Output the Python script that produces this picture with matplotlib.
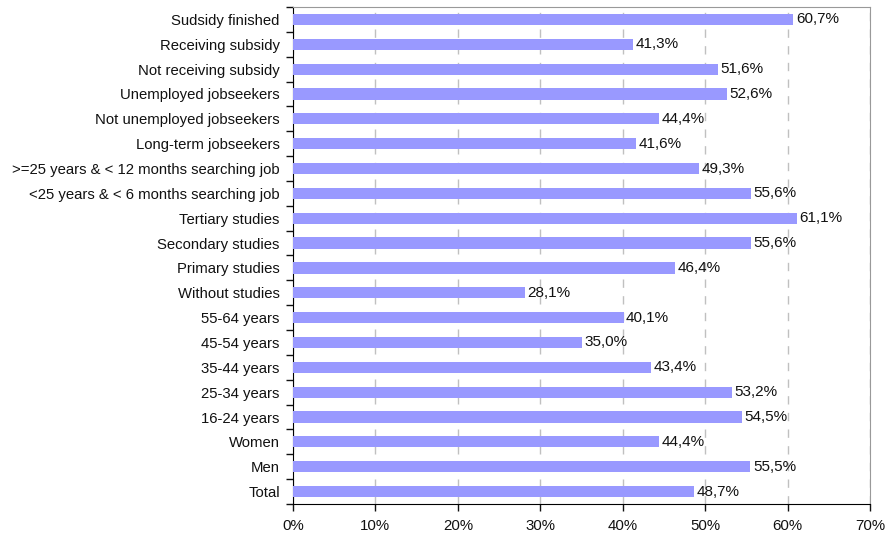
import matplotlib
matplotlib.use("Agg")
import matplotlib.pyplot as plt
import numpy as np
from matplotlib.ticker import FixedLocator

plt.rcParams['font.family'] = ['Liberation Sans', 'DejaVu Sans']

categories = ["Total", "Men", "Women", "16-24 years", "25-34 years", "35-44 years",
              "45-54 years", "55-64 years", "Without studies", "Primary studies",
              "Secondary studies", "Tertiary studies",
              "<25 years & < 6 months searching job",
              ">=25 years & < 12 months searching job",
              "Long-term jobseekers", "Not unemployed jobseekers",
              "Unemployed jobseekers", "Not receiving subsidy",
              "Receiving subsidy", "Sudsidy finished"]
values = [48.7, 55.5, 44.4, 54.5, 53.2, 43.4, 35.0, 40.1, 28.1, 46.4,
          55.6, 61.1, 55.6, 49.3, 41.6, 44.4, 52.6, 51.6, 41.3, 60.7]
xticks = [0, 10, 20, 30, 40, 50, 60, 70]

fig = plt.figure(figsize=(8.85, 5.38), dpi=100)
ax = fig.add_axes([293/885, 1-504/538, (870-293)/885, (504-7)/538])

y = np.arange(len(categories))
ax.barh(y, values, height=0.45, color='#9999FF', zorder=3)
for yi, v in zip(y, values):
    ax.text(v + 0.3, yi, f"{v:.1f}%".replace('.', ','), va='center', ha='left',
            fontsize=11, color='#111111', zorder=4)

ax.set_xlim(0, 70)
ax.set_ylim(-0.5, len(categories) - 0.5)
ax.set_xticks(xticks)
ax.set_xticklabels([f"{t}%" for t in xticks], fontsize=10.8)
ax.set_yticks(y)
ax.set_yticklabels(categories, fontsize=10.7)
ax.yaxis.set_minor_locator(FixedLocator(np.arange(-0.5, len(categories), 1)))
ax.tick_params(axis='y', which='major', length=0, pad=9.5)
ax.tick_params(axis='y', which='minor', length=5, direction='out', width=1)
ax.tick_params(axis='x', which='major', length=5, direction='out', width=1, pad=6)
ax.tick_params(colors='#111111', which='both')

ax.grid(axis='x', color='#C0C0C0', linestyle=(0, (6, 6)), linewidth=1, zorder=0)
for s in ['top', 'right']:
    ax.spines[s].set_color('#999999')
for s in ['left', 'bottom']:
    ax.spines[s].set_color('black')

fig.savefig("out.png", dpi=100)
